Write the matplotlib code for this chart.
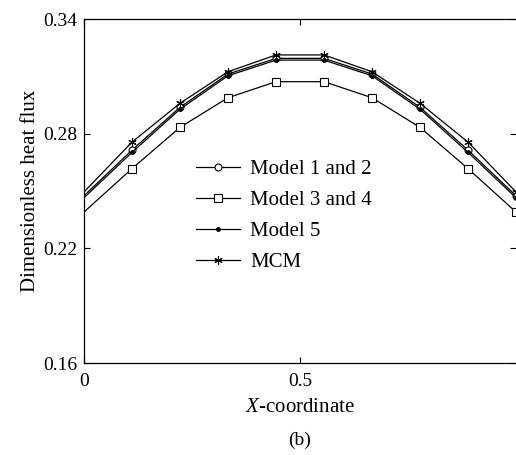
import numpy as np
import matplotlib
matplotlib.use("Agg")
import matplotlib.pyplot as plt

plt.rcParams["font.family"] = ["Liberation Serif", "DejaVu Serif"]
plt.rcParams["mathtext.fontset"] = "custom"
plt.rcParams["mathtext.it"] = "Liberation Serif:italic"
plt.rcParams["mathtext.rm"] = "Liberation Serif"

# данные (x = i/9)
x_coord = [0, 1 / 9, 2 / 9, 3 / 9, 4 / 9, 5 / 9, 6 / 9, 7 / 9, 8 / 9, 1]
model_12 = [0.2475, 0.2714, 0.2938, 0.3112, 0.3194, 0.3194, 0.3112, 0.2938, 0.2714, 0.2475]
model_34 = [0.2390, 0.2617, 0.2833, 0.2988, 0.3072, 0.3072, 0.2988, 0.2833, 0.2617, 0.2390]
model_5 = [0.2465, 0.2702, 0.2928, 0.3103, 0.3185, 0.3185, 0.3103, 0.2928, 0.2702, 0.2465]
mcm = [0.2495, 0.2756, 0.2959, 0.3124, 0.3212, 0.3212, 0.3124, 0.2959, 0.2756, 0.2495]

y_ticks = [0.16, 0.22, 0.28, 0.34]
x_ticks = [0, 0.5]

fig = plt.figure(figsize=(5.16, 4.55), dpi=100)
ax = fig.add_axes([84 / 516, 92 / 455, 432 / 516, 344 / 455])

lw = 0.9
marks = list(range(1, len(x_coord)))
ax.plot(x_coord, model_12, color="black", lw=lw, marker="o", ms=5,
        mfc="white", mec="black", mew=0.8, markevery=marks, label="Model 1 and 2")
ax.plot(x_coord, model_34, color="black", lw=lw, marker="s", ms=5.5,
        mfc="white", mec="black", mew=0.8, markevery=marks, label="Model 3 and 4")
ax.plot(x_coord, model_5, color="black", lw=lw, marker="o", ms=2.5,
        mfc="black", mec="black", markevery=marks, label="Model 5")
ax.plot(x_coord, mcm, color="black", lw=lw, marker=(6, 2, 0), ms=6,
        mec="black", mew=0.8, markevery=marks, label="MCM")

ax.set_xlim(0, 1)
ax.set_ylim(0.16, 0.34)
ax.set_xticks(x_ticks)
ax.set_xticklabels(["0", "0.5"])
ax.set_yticks(y_ticks)
ax.set_yticklabels([f"{v:.2f}" for v in y_ticks])
ax.tick_params(direction="in", length=4, width=0.8, top=True, right=True,
               labelsize=14)
ax.tick_params(axis="x", pad=7)
ax.tick_params(axis="y", pad=5)
for sp in ax.spines.values():
    sp.set_linewidth(0.9)
ax.spines["right"].set_visible(False)  # правая рамка обрезана в оригинале

ax.set_xlabel(r"$X$-coordinate", fontsize=15, labelpad=6)
ax.set_ylabel("Dimensionless heat flux", fontsize=15, labelpad=2)

ax.legend(loc="upper left", bbox_to_anchor=(0.24, 0.615), frameon=False,
          fontsize=15, handlelength=2.1, handletextpad=0.5, labelspacing=0.55,
          borderaxespad=0)

fig.text(300 / 516, 1 - 440 / 455, "(b)", ha="center", va="center", fontsize=14)

fig.savefig("out.png", dpi=100)
